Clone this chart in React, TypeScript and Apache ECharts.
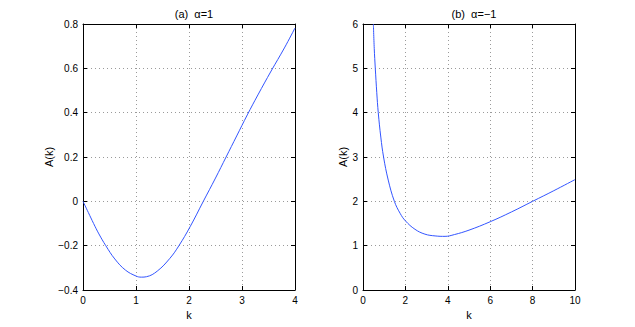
import React, { useEffect, useRef } from "react";
import * as echarts from "echarts";

// Left panel (a) alpha = 1
const kA = [0, 0.1, 0.2, 0.3, 0.43, 0.6, 0.8, 1.0, 1.1, 1.2, 1.4, 1.64, 1.81, 2.02, 2.27, 2.5, 2.7, 2.9, 3.1, 3.3, 3.55, 3.8, 4.0];
const valA = [0, -0.05, -0.1, -0.147, -0.2, -0.26, -0.31, -0.337, -0.342, -0.34, -0.315, -0.257, -0.2, -0.115, 0, 0.105, 0.2, 0.295, 0.39, 0.48, 0.588, 0.692, 0.782];

// Right panel (b) alpha = -1
const kB = [0.49, 0.53, 0.58, 0.65, 0.72, 0.84, 0.97, 1.19, 1.48, 1.75, 2.0, 2.45, 2.92, 3.4, 3.87, 4.31, 5.0, 6.0, 7.0, 8.0, 9.0, 10.0];
const valB = [6.0, 5.45, 5.0, 4.45, 4.0, 3.45, 3.0, 2.48, 2.0, 1.73, 1.56, 1.37, 1.26, 1.22, 1.21, 1.25, 1.35, 1.54, 1.76, 2.0, 2.24, 2.49];

const titles = ["(a)  α=1", "(b)  α=−1"];
const xLabel = "k";
const yLabel = "A(k)";

const FONT = "'Liberation Sans', Arial, Helvetica, sans-serif";

const fmt = (v: number, dec: number) => {
  if (Math.abs(v) < 1e-9) return "0";
  return v.toFixed(dec).replace("-", "−");
};

export default function App() {
  const ref = useRef<HTMLDivElement>(null);
  useEffect(() => {
    if (!ref.current) return;
    const chart = echarts.init(ref.current, undefined, { renderer: "svg" });
    const grids = [
      { left: 83, top: 24, width: 212, height: 266 },
      { left: 363, top: 24, width: 212, height: 266 },
    ];
    const axisLine = { show: true, onZero: false, lineStyle: { color: "#000", width: 1 } };
    const tick = { show: true, inside: true, length: 4, lineStyle: { color: "#000" } };
    const split = { show: true, lineStyle: { color: "#9a9a9a", type: [1, 3], width: 1 } };
    const lbl = { color: "#000", fontSize: 10, fontFamily: FONT };
    const ranges = [
      { xmin: 0, xmax: 4, xint: 1, ymin: -0.4, ymax: 0.8, yint: 0.2, xd: 0, yd: 1, gap: 27 },
      { xmin: 0, xmax: 10, xint: 2, ymin: 0, ymax: 6, yint: 1, xd: 0, yd: 0, gap: 8 },
    ];
    const xAxis: any[] = [];
    const yAxis: any[] = [];
    ranges.forEach((r, i) => {
      xAxis.push({
        type: "value", gridIndex: i, position: "bottom", min: r.xmin, max: r.xmax, interval: r.xint,
        axisLine, axisTick: tick, splitLine: split,
        axisLabel: { ...lbl, margin: 5, formatter: (v: number) => fmt(v, r.xd) },
        name: xLabel, nameLocation: "middle", nameGap: 15,
        nameTextStyle: { color: "#000", fontSize: 11, fontFamily: FONT },
      });
      xAxis.push({
        type: "value", gridIndex: i, position: "top", min: r.xmin, max: r.xmax, interval: r.xint,
        axisLine, axisTick: tick, splitLine: { show: false }, axisLabel: { show: false },
      });
      yAxis.push({
        type: "value", gridIndex: i, position: "left", min: r.ymin, max: r.ymax, interval: r.yint,
        axisLine, axisTick: tick, splitLine: split,
        axisLabel: { ...lbl, margin: 5, formatter: (v: number) => fmt(v, r.yd) },
        name: yLabel, nameLocation: "middle", nameGap: r.gap,
        nameTextStyle: { color: "#000", fontSize: 11, fontFamily: FONT },
      });
      yAxis.push({
        type: "value", gridIndex: i, position: "right", min: r.ymin, max: r.ymax, interval: r.yint,
        axisLine, axisTick: tick, splitLine: { show: false }, axisLabel: { show: false },
      });
    });
    chart.setOption({
      animation: false,
      backgroundColor: "#fff",
      title: titles.map((t, i) => ({
        text: t,
        left: grids[i].left + grids[i].width / 2,
        top: 3,
        textAlign: "center",
        textStyle: { color: "#000", fontSize: 11, fontWeight: "normal", fontFamily: FONT },
      })),
      grid: grids,
      xAxis,
      yAxis,
      series: [
        {
          type: "line", xAxisIndex: 0, yAxisIndex: 0, smooth: 0.4, showSymbol: false,
          data: kA.map((k, j) => [k, valA[j]]),
          lineStyle: { color: "#3355ff", width: 1 }, clip: true,
        },
        {
          type: "line", xAxisIndex: 2, yAxisIndex: 2, smooth: 0.4, showSymbol: false,
          data: kB.map((k, j) => [k, valB[j]]),
          lineStyle: { color: "#3355ff", width: 1 }, clip: true,
        },
      ],
    });
    return () => chart.dispose();
  }, []);
  return <div ref={ref} style={{ position: "absolute", left: 0, top: 0, width: 635, height: 327 }} />;
}
